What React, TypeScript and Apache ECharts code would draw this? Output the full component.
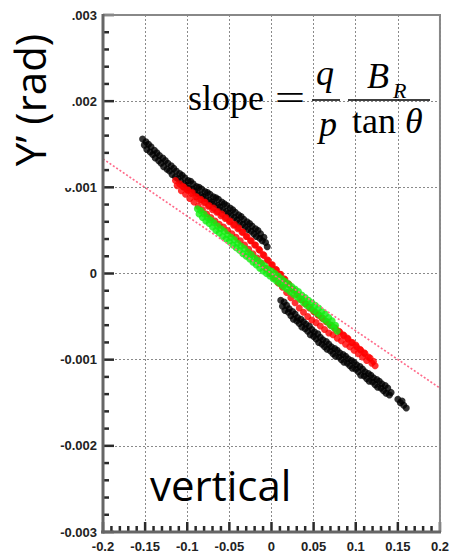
import React, { useEffect, useRef } from "react";
import * as echarts from "echarts";

// Beam scan: horizontal position vs vertical angle Y' (rad)
const xTicks = [-0.2, -0.15, -0.1, -0.05, 0, 0.05, 0.1, 0.15, 0.2];
const yTicks = [-0.003, -0.002, -0.001, 0, 0.001, 0.002, 0.003];
const xMinorStep = 0.01;
const yMinorStep = 0.0002;

const blackPoints: [number, number][] = [
  [-0.153, 0.00156], [-0.151, 0.00149], [-0.149, 0.00153], [-0.148, 0.00144], [-0.146, 0.0015], [-0.144, 0.00141],
  [-0.143, 0.00147], [-0.141, 0.00138], [-0.139, 0.00143], [-0.138, 0.00134], [-0.136, 0.0014], [-0.134, 0.00131],
  [-0.133, 0.00137], [-0.131, 0.00128], [-0.129, 0.00134], [-0.128, 0.00124], [-0.126, 0.00131], [-0.124, 0.00121],
  [-0.123, 0.00128], [-0.121, 0.00119], [-0.119, 0.00125], [-0.118, 0.00115], [-0.116, 0.00122], [-0.114, 0.00112],
  [-0.113, 0.00119], [-0.111, 0.0011], [-0.109, 0.00116], [-0.108, 0.00107], [-0.106, 0.00114], [-0.104, 0.00104],
  [-0.103, 0.00111], [-0.101, 0.00102], [-0.099, 0.00108], [-0.098, 0.00099], [-0.096, 0.00107], [-0.094, 0.00098],
  [-0.093, 0.00104], [-0.091, 0.00095], [-0.089, 0.00101], [-0.088, 0.00093], [-0.086, 0.001], [-0.084, 0.00091],
  [-0.083, 0.00098], [-0.081, 0.00089], [-0.079, 0.00095], [-0.078, 0.00087], [-0.076, 0.00094], [-0.074, 0.00085],
  [-0.073, 0.00092], [-0.071, 0.00083], [-0.069, 0.00089], [-0.068, 0.00081], [-0.066, 0.00088], [-0.064, 0.00079],
  [-0.063, 0.00086], [-0.061, 0.00077], [-0.059, 0.00083], [-0.058, 0.00074], [-0.056, 0.00081], [-0.054, 0.00072],
  [-0.053, 0.00079], [-0.051, 0.0007], [-0.049, 0.00076], [-0.048, 0.00067], [-0.046, 0.00074], [-0.044, 0.00065],
  [-0.043, 0.00071], [-0.041, 0.00062], [-0.039, 0.00068], [-0.038, 0.00059], [-0.036, 0.00066], [-0.034, 0.00057],
  [-0.033, 0.00063], [-0.031, 0.00054], [-0.029, 0.0006], [-0.028, 0.00051], [-0.026, 0.00058], [-0.024, 0.00049],
  [-0.023, 0.00055], [-0.021, 0.00046], [-0.019, 0.00052], [-0.018, 0.00043], [-0.016, 0.0005], [-0.014, 0.00041],
  [-0.013, 0.00046], [-0.011, 0.00038], [-0.009, 0.00042], [-0.007, 0.00036], [-0.005, 0.00031],
  [0.011, -0.00031], [0.013, -0.00038], [0.015, -0.00033], [0.016, -0.00043], [0.018, -0.00037], [0.02, -0.00045],
  [0.021, -0.00041], [0.023, -0.00049], [0.025, -0.00044], [0.026, -0.00053], [0.028, -0.00047], [0.03, -0.00055],
  [0.031, -0.00051], [0.033, -0.00058], [0.035, -0.00053], [0.036, -0.00062], [0.038, -0.00056], [0.04, -0.00064],
  [0.041, -0.00059], [0.043, -0.00067], [0.045, -0.00061], [0.046, -0.00071], [0.048, -0.00065], [0.05, -0.00073],
  [0.051, -0.00068], [0.053, -0.00076], [0.055, -0.0007], [0.056, -0.0008], [0.058, -0.00074], [0.06, -0.00082],
  [0.061, -0.00077], [0.063, -0.00085], [0.065, -0.00079], [0.066, -0.00088], [0.068, -0.00082], [0.07, -0.0009],
  [0.071, -0.00085], [0.073, -0.00093], [0.075, -0.00087], [0.076, -0.00096], [0.078, -0.00089], [0.08, -0.00097],
  [0.081, -0.00092], [0.083, -0.001], [0.085, -0.00094], [0.086, -0.00103], [0.088, -0.00096], [0.09, -0.00104],
  [0.091, -0.00099], [0.093, -0.00107], [0.095, -0.00101], [0.096, -0.0011], [0.098, -0.00103], [0.1, -0.00111],
  [0.101, -0.00106], [0.103, -0.00114], [0.105, -0.00108], [0.106, -0.00118], [0.108, -0.00111], [0.11, -0.00119],
  [0.111, -0.00114], [0.113, -0.00122], [0.115, -0.00116], [0.116, -0.00125], [0.118, -0.00118], [0.12, -0.00126],
  [0.121, -0.00121], [0.123, -0.00129], [0.125, -0.00123], [0.126, -0.00132], [0.128, -0.00125], [0.13, -0.00133],
  [0.131, -0.00128], [0.133, -0.00136], [0.135, -0.0013], [0.136, -0.00139], [0.138, -0.00133], [0.14, -0.00141],
  [0.142, -0.00138], [0.15, -0.00146], [0.153, -0.0015], [0.155, -0.00148], [0.157, -0.00153], [0.16, -0.00156],
];

const redPoints: [number, number][] = [
  [-0.114, 0.00108], [-0.112, 0.00102], [-0.109, 0.00104], [-0.107, 0.00096], [-0.105, 0.00101],
  [-0.104, 0.001], [-0.102, 0.00092], [-0.1, 0.00097], [-0.099, 0.00097], [-0.097, 0.00087], [-0.095, 0.00093],
  [-0.094, 0.00094], [-0.092, 0.00083], [-0.09, 0.00089], [-0.089, 0.00089], [-0.087, 0.00078], [-0.085, 0.00085],
  [-0.084, 0.00086], [-0.082, 0.00074], [-0.08, 0.00082], [-0.079, 0.00083], [-0.077, 0.00069], [-0.075, 0.00078],
  [-0.074, 0.00079], [-0.072, 0.00065], [-0.07, 0.00074], [-0.069, 0.00076], [-0.067, 0.00061], [-0.065, 0.00071],
  [-0.064, 0.00072], [-0.062, 0.00057], [-0.06, 0.00067], [-0.059, 0.00069], [-0.057, 0.00054], [-0.055, 0.00064],
  [-0.054, 0.00065], [-0.052, 0.0005], [-0.05, 0.0006], [-0.049, 0.00061], [-0.047, 0.00046], [-0.045, 0.00056],
  [-0.044, 0.00057], [-0.042, 0.00042], [-0.04, 0.00052], [-0.039, 0.00053], [-0.037, 0.00038], [-0.035, 0.00048],
  [-0.034, 0.00048], [-0.032, 0.00033], [-0.03, 0.00043], [-0.029, 0.00043], [-0.027, 0.00028], [-0.025, 0.00038],
  [-0.024, 0.00038], [-0.022, 0.00023], [-0.02, 0.00033], [-0.019, 0.00033], [-0.017, 0.00018], [-0.015, 0.00028],
  [-0.014, 0.00027], [-0.012, 0.00012], [-0.01, 0.00022], [-0.009, 0.00021], [-0.007, 0.00006], [-0.005, 0.00016],
  [-0.004, 0.00015], [-0.002, 0.0], [0.0, 0.0001], [0.001, 0.0001], [0.003, -0.00005], [0.005, 0.00005],
  [0.006, 0.00004], [0.008, -0.00011], [0.01, -0.00001], [0.011, -0.00001], [0.013, -0.00016], [0.015, -0.00006],
  [0.016, -0.00007], [0.018, -0.00022], [0.02, -0.00012], [0.021, -0.00013], [0.023, -0.00028], [0.025, -0.00018],
  [0.026, -0.00019], [0.028, -0.00034], [0.03, -0.00024], [0.031, -0.00025], [0.033, -0.0004], [0.035, -0.0003],
  [0.036, -0.0003], [0.038, -0.00045], [0.04, -0.00035], [0.041, -0.00035], [0.043, -0.0005], [0.045, -0.0004],
  [0.046, -0.00039], [0.048, -0.00054], [0.05, -0.00044], [0.051, -0.00044], [0.053, -0.00057], [0.055, -0.00048],
  [0.056, -0.00048], [0.058, -0.00061], [0.06, -0.00052], [0.061, -0.00052], [0.063, -0.00065], [0.065, -0.00056],
  [0.066, -0.00056], [0.068, -0.00069], [0.07, -0.0006], [0.071, -0.0006], [0.073, -0.00071], [0.075, -0.00063],
  [0.076, -0.00064], [0.078, -0.00075], [0.08, -0.00067], [0.081, -0.00068], [0.083, -0.00078], [0.085, -0.00071],
  [0.086, -0.00072], [0.088, -0.00082], [0.09, -0.00075], [0.091, -0.00076], [0.093, -0.00085], [0.095, -0.0008],
  [0.096, -0.0008], [0.098, -0.00089], [0.1, -0.00083], [0.101, -0.00085], [0.103, -0.00093], [0.105, -0.00088],
  [0.106, -0.00089], [0.108, -0.00097], [0.11, -0.00092], [0.111, -0.00093], [0.113, -0.00101], [0.115, -0.00097],
  [0.117, -0.00098], [0.119, -0.00104], [0.121, -0.00102], [0.123, -0.00107],
];

const greenPoints: [number, number][] = [
  [-0.088, 0.00075], [-0.086, 0.00069], [-0.084, 0.00073], [-0.082, 0.00065], [-0.08, 0.00069], [-0.078, 0.00061],
  [-0.076, 0.00065], [-0.074, 0.00058], [-0.072, 0.00062], [-0.07, 0.00054], [-0.068, 0.00059], [-0.066, 0.0005],
  [-0.064, 0.00055], [-0.062, 0.00047], [-0.06, 0.00052], [-0.058, 0.00043], [-0.056, 0.00049], [-0.054, 0.0004],
  [-0.052, 0.00045], [-0.05, 0.00037], [-0.048, 0.00042], [-0.046, 0.00033], [-0.044, 0.00039], [-0.042, 0.0003],
  [-0.04, 0.00035], [-0.038, 0.00027], [-0.036, 0.00032], [-0.034, 0.00023], [-0.032, 0.00029], [-0.03, 0.0002],
  [-0.028, 0.00025], [-0.026, 0.00017], [-0.024, 0.00022], [-0.022, 0.00013], [-0.02, 0.00018], [-0.018, 0.0001],
  [-0.016, 0.00015], [-0.014, 0.00006], [-0.012, 0.00012], [-0.01, 0.00003], [-0.008, 0.00009], [-0.006, 0.0],
  [-0.004, 0.00005], [-0.002, -0.00003], [0.0, 0.00003], [0.002, -0.00006], [0.004, 0.0], [0.006, -0.00009],
  [0.008, -0.00003], [0.01, -0.00012], [0.012, -0.00006], [0.014, -0.00015], [0.016, -0.00009], [0.018, -0.00018],
  [0.02, -0.00012], [0.022, -0.00021], [0.024, -0.00015], [0.026, -0.00024], [0.028, -0.00018], [0.03, -0.00027],
  [0.032, -0.00021], [0.034, -0.0003], [0.036, -0.00025], [0.038, -0.00034], [0.04, -0.00028], [0.042, -0.00037],
  [0.044, -0.00031], [0.046, -0.0004], [0.048, -0.00034], [0.05, -0.00043], [0.052, -0.00037], [0.054, -0.00046],
  [0.056, -0.0004], [0.058, -0.00049], [0.06, -0.00044], [0.062, -0.00053], [0.064, -0.00047], [0.066, -0.00056],
  [0.068, -0.00051], [0.07, -0.0006], [0.072, -0.00055], [0.074, -0.00063], [0.076, -0.0006], [0.078, -0.00067],
];

// expected slope line
const slopeLineX = [-0.2, 0.2];
const slopeLineY = [0.00133, -0.00133];

const fmtY = (v: number) => (Math.abs(v) < 1e-9 ? "0" : v.toFixed(3));
const fmtX = (v: number) => (Math.abs(v) < 1e-9 ? "0" : String(parseFloat(v.toFixed(2))));

function minorValues(major: number[], step: number): number[] {
  const lo = major[0];
  const hi = major[major.length - 1];
  const n = Math.round((hi - lo) / step);
  const out: number[] = [];
  for (let i = 0; i <= n; i++) {
    const v = lo + i * step;
    if (!major.some((t) => Math.abs(t - v) < step / 100)) out.push(v);
  }
  return out;
}

const GRID = { left: 103, right: 7, top: 15, bottom: 26 };
const WIDTH = 452;
const HEIGHT = 558;

export default function App() {
  const ref = useRef<HTMLDivElement>(null);

  useEffect(() => {
    if (!ref.current) return;
    const chart = echarts.init(ref.current, undefined, { renderer: "svg" });
    const serif = "'Liberation Serif', 'Times New Roman', serif";
    const xMin = xTicks[0];
    const xMax = xTicks[xTicks.length - 1];
    const yMin = yTicks[0];
    const yMax = yTicks[yTicks.length - 1];

    const axisBase = (fmt: (v: number) => string, margin: number) => ({
      type: "value",
      axisLine: { show: false, onZero: false },
      axisTick: { show: false },
      minorTick: { show: false },
      splitLine: { show: true, lineStyle: { color: "#8a8a8a", width: 1, type: [2, 2] } },
      axisLabel: {
        show: true,
        formatter: fmt,
        fontSize: 13,
        fontWeight: "bold",
        color: "#222",
        margin,
        showMinLabel: true,
        showMaxLabel: true,
      },
    });

    chart.setOption({
      animation: false,
      backgroundColor: "#fff",
      textStyle: { fontFamily: "'Liberation Sans', Arial, sans-serif" },
      grid: { ...GRID, containLabel: false },
      xAxis: { ...axisBase(fmtX, 8), min: xMin, max: xMax, interval: 0.05 },
      yAxis: { ...axisBase(fmtY, 6), min: yMin, max: yMax, interval: 0.001 },
      series: [
        { type: "scatter", data: blackPoints, symbol: "circle", symbolSize: 7, itemStyle: { color: "#000" }, z: 2 },
        { type: "scatter", data: redPoints, symbol: "circle", symbolSize: 7, itemStyle: { color: "#ff0000" }, z: 3 },
        { type: "scatter", data: greenPoints, symbol: "circle", symbolSize: 7, itemStyle: { color: "#11ee11" }, z: 4 },
        {
          type: "line",
          data: slopeLineX.map((x, i) => [x, slopeLineY[i]]),
          showSymbol: false,
          lineStyle: { color: "#ff6a8a", width: 1.6, type: [2, 2] },
          z: 5,
        },
      ],
    });

    // pixel position of a data point, via the grid's scales (with the plain layout as a fallback)
    const px = (x: number, y: number): number[] => {
      const p = chart.convertToPixel({ xAxisIndex: 0, yAxisIndex: 0 }, [x, y]) as number[] | undefined;
      if (p && isFinite(p[0]) && isFinite(p[1])) return p;
      const w = WIDTH - GRID.left - GRID.right;
      const h = HEIGHT - GRID.top - GRID.bottom;
      return [GRID.left + ((x - xMin) / (xMax - xMin)) * w, GRID.top + ((yMax - y) / (yMax - yMin)) * h];
    };
    const bl = px(xMin, yMin);
    const tr = px(xMax, yMax);
    const frame: any[] = [];
    const bar = (x: number, y: number, w: number, h: number, fill: string) =>
      frame.push({ type: "rect", z: 102, shape: { x, y, width: w, height: h }, style: { fill } });

    const tickFill = "#2a2a2a";
    xTicks.forEach((v) => { const p = px(v, yMin); bar(p[0] - 1.25, p[1] - 10, 2.5, 10, tickFill); });
    minorValues(xTicks, xMinorStep).forEach((v) => { const p = px(v, yMin); bar(p[0] - 1.25, p[1] - 6, 2.5, 6, tickFill); });
    yTicks.forEach((v) => { const p = px(xMin, v); bar(p[0], p[1] - 1.25, 11, 2.5, tickFill); });
    minorValues(yTicks, yMinorStep).forEach((v) => { const p = px(xMin, v); bar(p[0], p[1] - 1.25, 6, 2.5, tickFill); });
    bar(bl[0], tr[1] - 1, tr[0] - bl[0] + 1, 2, "#888888");
    bar(tr[0] - 1, tr[1] - 1, 2, bl[1] - tr[1] + 2, "#888888");
    bar(bl[0] - 2, bl[1] - 1.5, tr[0] - bl[0] + 3, 3, "#666666");
    bar(bl[0] - 1.5, tr[1] - 1, 3, bl[1] - tr[1] + 2.5, "#666666");

    chart.setOption({
      graphic: [
        // title box sits over the upper tick labels
        { type: "rect", shape: { x: 0, y: 0, width: 72, height: 188 }, style: { fill: "#fff" }, z: 100 },
        ...frame,
        {
          type: "text",
          x: 29,
          y: 100,
          rotation: Math.PI / 2,
          z: 101,
          style: {
            text: "Y\u2019 (rad)",
            font: "42px 'Open Sans', sans-serif",
            fill: "#000",
            align: "center",
            verticalAlign: "middle",
          },
        },
        {
          type: "text",
          x: 150,
          y: 484,
          z: 101,
          style: {
            text: "vertical",
            font: "42px 'Open Sans', sans-serif",
            fill: "#000",
            align: "left",
            verticalAlign: "middle",
          },
        },
        // slope = (q/p) * B_R / tan(theta)
        { type: "text", x: 188, y: 98, z: 101, style: { text: "slope", font: `36px ${serif}`, fill: "#000", align: "left", verticalAlign: "middle" } },
        { type: "text", x: 290, y: 98, scaleX: 1.5, z: 101, style: { text: "=", font: `36px ${serif}`, fill: "#000", align: "center", verticalAlign: "middle" } },
        { type: "line", z: 101, shape: { x1: 312, y1: 100, x2: 340, y2: 100 }, style: { stroke: "#000", lineWidth: 1.5 } },
        { type: "text", x: 325, y: 73, z: 101, style: { text: "q", font: `italic 36px ${serif}`, fill: "#000", align: "center", verticalAlign: "middle" } },
        { type: "text", x: 328, y: 124, z: 101, style: { text: "p", font: `italic 36px ${serif}`, fill: "#000", align: "center", verticalAlign: "middle" } },
        { type: "line", z: 101, shape: { x1: 348, y1: 100, x2: 430, y2: 100 }, style: { stroke: "#000", lineWidth: 1.5 } },
        { type: "text", x: 367, y: 76, z: 101, style: { text: "B", font: `italic 36px ${serif}`, fill: "#000", align: "left", verticalAlign: "middle" } },
        { type: "text", x: 393, y: 90, z: 101, style: { text: "R", font: `italic 22px ${serif}`, fill: "#000", align: "left", verticalAlign: "middle" } },
        { type: "text", x: 352, y: 121, z: 101, style: { text: "tan", font: `36px ${serif}`, fill: "#000", align: "left", verticalAlign: "middle" } },
        { type: "text", x: 405, y: 121, z: 101, style: { text: "\u03b8", font: `italic 36px ${serif}`, fill: "#000", align: "left", verticalAlign: "middle" } },
      ],
    });

    return () => chart.dispose();
  }, []);

  return (
    <div
      ref={ref}
      style={{ position: "fixed", left: 0, top: 0, width: WIDTH, height: HEIGHT, background: "#fff" }}
    />
  );
}
